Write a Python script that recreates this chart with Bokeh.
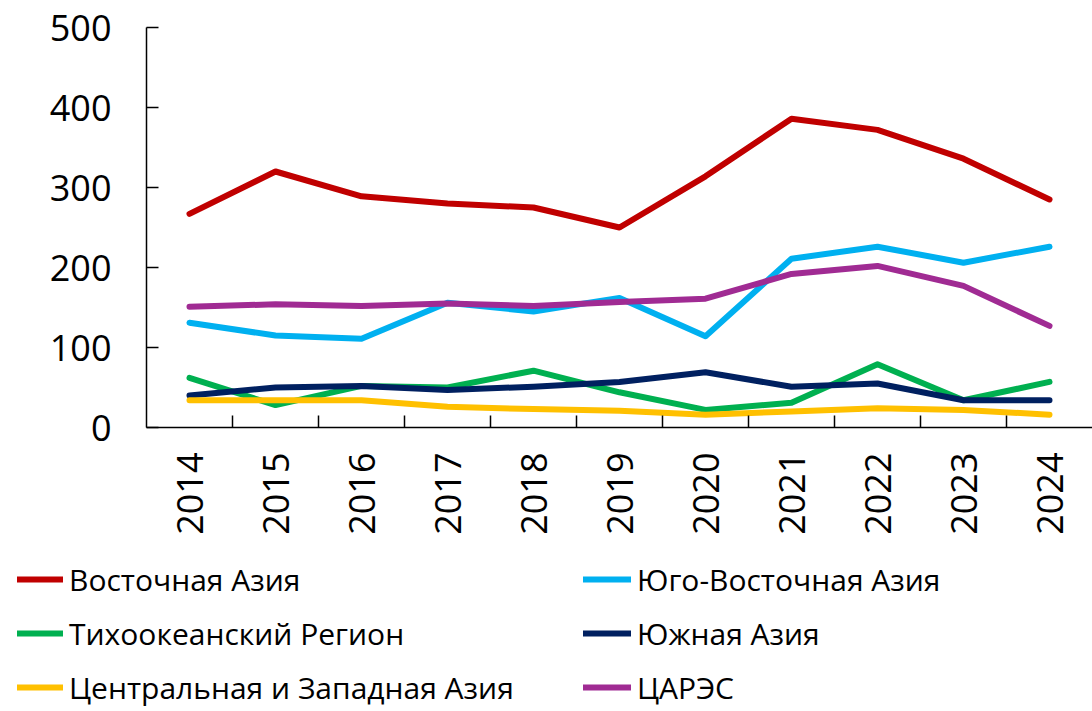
import math
from bokeh.plotting import figure
from bokeh.models import Range1d, FixedTicker, Legend, LegendItem
from bokeh.embed import file_html
from bokeh.resources import INLINE

years = [2014, 2015, 2016, 2017, 2018, 2019, 2020, 2021, 2022, 2023, 2024]
year_labels = [str(y) for y in years]

east_asia = [267, 320, 289, 280, 275, 250, 314, 386, 372, 336, 285]
southeast_asia = [131, 115, 111, 156, 145, 162, 114, 211, 226, 206, 226]
pacific = [62, 28, 52, 50, 71, 44, 22, 31, 79, 34, 57]
south_asia = [40, 50, 52, 47, 51, 57, 69, 51, 55, 34, 34]
central_west_asia = [34, 34, 34, 26, 23, 21, 16, 20, 24, 22, 16]
carec = [151, 154, 152, 155, 152, 157, 161, 192, 202, 177, 127]

names = ["Восточная Азия", "Юго-Восточная Азия", "Тихоокеанский Регион",
         "Южная Азия", "Центральная и Западная Азия", "ЦАРЭС"]
series = [east_asia, southeast_asia, pacific, south_asia, central_west_asia, carec]
colors = ["#C00000", "#00B0F0", "#00B050", "#002060", "#FFC000", "#A02B93"]

y_ticks = [0, 100, 200, 300, 400, 500]

FONT = "Open Sans"
W, H = 1092, 711
AX_LEFT = 146      # pixel position of the value axis
AX_TOP = 27        # pixel position of the top of the value axis
AX_BOTTOM = 427    # pixel position of the category axis
step = (W - AX_LEFT) / len(years)           # px per category
ppu = (AX_BOTTOM - AX_TOP) / (y_ticks[-1] - y_ticks[0])  # px per unit

x0 = years[0] - 0.5
x_start = x0 - AX_LEFT / step
x_end = x0 + (W - AX_LEFT) / step
y_start = y_ticks[0] - (H - AX_BOTTOM) / ppu
y_end = y_ticks[-1] + AX_TOP / ppu

p = figure(width=W, height=H, output_backend="svg", toolbar_location=None,
           x_range=Range1d(x_start, x_end), y_range=Range1d(y_start, y_end),
           min_border_left=0, min_border_right=0, min_border_top=0,
           min_border_bottom=0)
p.outline_line_color = None
p.xgrid.grid_line_color = None
p.ygrid.grid_line_color = None
p.background_fill_color = "white"
p.border_fill_color = "white"

renderers = []
for vals, col in zip(series, colors):
    r = p.line(years, vals, line_width=6, line_color=col,
               line_cap="round", line_join="round")
    renderers.append(r)

# category (x) axis
xa = p.xaxis[0]
xa.fixed_location = y_ticks[0]
xa.bounds = (x0, years[-1] + 0.5)
xa.ticker = FixedTicker(ticks=years, minor_ticks=[y + 0.5 for y in years[:-1]])
xa.major_label_overrides = {y: lab for y, lab in zip(years, year_labels)}
xa.major_label_orientation = math.pi / 2
xa.major_tick_line_color = None
xa.minor_tick_in = 12
xa.minor_tick_out = 0
xa.minor_tick_line_color = "black"
xa.minor_tick_line_width = 1.5
xa.axis_line_color = "black"
xa.axis_line_width = 1.5
xa.major_label_text_font = FONT
xa.major_label_text_font_size = "36px"
xa.major_label_text_color = "black"
xa.major_label_standoff = 19

# value (y) axis
ya = p.yaxis[0]
ya.fixed_location = x0
ya.bounds = (y_ticks[0], y_ticks[-1])
ya.ticker = FixedTicker(ticks=y_ticks)
ya.major_tick_in = 12
ya.major_tick_out = 0
ya.major_tick_line_color = "black"
ya.major_tick_line_width = 1.5
ya.minor_tick_line_color = None
ya.axis_line_color = "black"
ya.axis_line_width = 1.5
ya.major_label_text_font = FONT
ya.major_label_text_font_size = "36px"
ya.major_label_text_color = "black"
ya.major_label_standoff = 35


def make_legend(idx, loc, gw):
    return Legend(items=[LegendItem(label=names[i], renderers=[renderers[i]]) for i in idx],
                  location=loc, orientation="vertical",
                  label_text_font=FONT, label_text_font_size="30px",
                  label_text_color="black",
                  glyph_width=gw, glyph_height=42, label_height=42,
                  label_standoff=6, spacing=12, padding=0, margin=0,
                  border_line_alpha=0, background_fill_alpha=0)


p.add_layout(make_legend([0, 2, 4], (17, 3), 46))
p.add_layout(make_legend([1, 3, 5], (583, 3), 48))

open("out.html", "w").write(file_html(p, INLINE))
